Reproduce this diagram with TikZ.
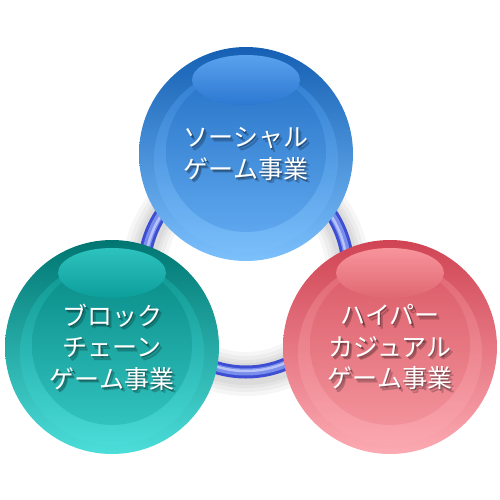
\documentclass[tikz,border=0pt]{standalone}
\usepackage{fontspec}
\newfontfamily\jp{Noto Sans CJK JP}
\usetikzlibrary{calc}
\definecolor{bTop}{HTML}{1560B4}
\definecolor{bMid}{HTML}{3C8CE2}
\definecolor{bBot}{HTML}{7CC0FC}
\definecolor{bHiA}{HTML}{5AA2EE}
\definecolor{bHiB}{HTML}{2C78D2}
\definecolor{tTop}{HTML}{007672}
\definecolor{tMid}{HTML}{12A6A2}
\definecolor{tBot}{HTML}{4CDEDA}
\definecolor{tHiA}{HTML}{2EC2BE}
\definecolor{tHiB}{HTML}{0C9E9A}
\definecolor{pTop}{HTML}{D04454}
\definecolor{pMid}{HTML}{EA7A82}
\definecolor{pBot}{HTML}{FCAAB2}
\definecolor{pHiA}{HTML}{F8949C}
\definecolor{pHiB}{HTML}{E06872}
\definecolor{ringDark}{HTML}{3E4ED2}
\definecolor{ringMid}{HTML}{7A8EEC}
\definecolor{ringLight}{HTML}{B6C2F8}
\tikzset{
  ball/.style={circle, minimum size=214pt, inner sep=0pt},
  label jp/.style={font=\jp\fontsize{25}{31.5}\selectfont, align=center, text=white, inner sep=0pt},
  label shadow/.style={font=\jp\fontsize{25}{31.5}\selectfont, align=center, text=black, inner sep=0pt, opacity=0.22},
}
% #1 name, #2 position, #3 prefix, #4 text
\newcommand\mysphere[4]{%
  \node[ball, top color=#3Top, bottom color=#3Bot] (#1) at #2 {};
  \shade[top color=#3Mid, bottom color=#3Bot, opacity=0.55] ($(#1.center)+(0,6)$) circle (92);
  \shade[top color=#3Top, bottom color=#3Mid, opacity=0.35] ($(#1.center)+(0,-2)$) circle (80);
  \shade[top color=#3HiA, bottom color=#3HiB] ($(#1.center)+(0,-74)$) ellipse (54 and 25);
  \foreach \dx/\dy in {1.5/2, 3/3.5, 1/1}{
    \node[label shadow] at ($(#1.center)+(\dx,\dy)$) {#4};
  }
  \node[label jp] (#1 text) at (#1.center) {#4};
}
\begin{document}
\begin{tikzpicture}[x=1pt,y=-1pt]
\useasboundingbox (0,0) rectangle (500,500);
\fill[white] (0,0) rectangle (500,500);
\coordinate (hub) at (246,270);
% ring shadow
\foreach \w in {44,36,28,22}{
  \draw[black, opacity=0.035, line width=\w pt] ($(hub)+(0,2)$) circle (102);
}
% ring
\draw[ringDark, line width=13pt] (hub) circle (102);
\draw[ringMid, line width=7pt] (hub) circle (102);
\draw[ringLight, line width=2.5pt] (hub) circle (101);
% spheres
\mysphere{social}{(246,154)}{b}{ソーシャル\\ゲーム事業}
\mysphere{block}{(112,347)}{t}{ブロック\\チェーン\\ゲーム事業}
\mysphere{hyper}{(390,347)}{p}{ハイパー\\カジュアル\\ゲーム事業}
\end{tikzpicture}
\end{document}
